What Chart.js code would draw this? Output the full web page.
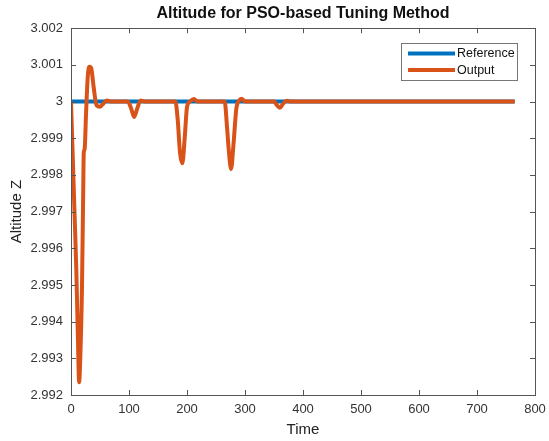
<!DOCTYPE html>
<html>
<head>
<meta charset="utf-8">
<script src="https://cdn.jsdelivr.net/npm/chart.js@4/dist/chart.umd.min.js"></script>
<style>
  body { margin: 0; background: #fff; }
  canvas { display: block; }
</style>
</head>
<body>
<canvas id="altChart" width="549" height="441"></canvas>
<script>
// reference altitude (constant setpoint)
var refTime = [0, 765];
var refAlt = [3.0, 3.0];

// PSO tuned output response
var outTime = [0, 3, 6, 9, 12, 14, 16, 19, 21, 22, 23.5, 26, 29, 32, 35, 39, 44, 50, 56, 62, 70,
  98, 104, 109, 114, 120, 128,
  180, 184, 188, 192, 196, 200, 205, 212, 218,
  265, 269, 273, 276, 280, 285, 290, 294, 300,
  350, 355, 360, 366, 372, 380, 765];
var outAlt = [3.0, 2.9985, 2.9970, 2.9955, 2.9935, 2.99235, 2.9930, 2.9950, 2.9975, 2.9986, 2.9987, 2.9997, 3.0007, 3.00095, 3.0009, 3.0004, 2.9999, 2.99986, 2.99995, 3.00003, 3.0,
  3.0, 2.9998, 2.99958, 2.9998, 3.00003, 3.0,
  3.0, 2.9995, 2.9986, 2.99832, 2.9990, 2.99985, 3.0, 3.00007, 3.0,
  3.0, 2.9993, 2.9985, 2.99816, 2.9988, 2.9998, 3.00003, 3.00008, 3.0,
  3.0, 2.9999, 2.99983, 2.99995, 3.00002, 3.0, 3.0];

var xTicks = [0, 100, 200, 300, 400, 500, 600, 700, 800];
var yTicks = [2.992, 2.993, 2.994, 2.995, 2.996, 2.997, 2.998, 2.999, 3, 3.001, 3.002];

function toPoints(xs, ys) {
  return xs.map(function(x, i) { return {x: x, y: ys[i]}; });
}

var FONT = "'Liberation Sans', Arial, sans-serif";
var AXIS_COLOR = '#555';

// box around the axes, inward ticks and the boxed legend
var axesBox = {
  id: 'axesBox',
  afterDatasetsDraw: function(chart) {
    var ctx = chart.ctx, a = chart.chartArea;
    var xs = chart.scales.x, ys = chart.scales.y;
    ctx.save();
    ctx.strokeStyle = AXIS_COLOR;
    ctx.lineWidth = 1;
    ctx.strokeRect(Math.round(a.left) + 0.5, Math.round(a.top) + 0.5,
      Math.round(a.right - a.left), Math.round(a.bottom - a.top));
    ctx.beginPath();
    xTicks.forEach(function(v) {
      var px = Math.round(xs.getPixelForValue(v)) + 0.5;
      ctx.moveTo(px, a.bottom); ctx.lineTo(px, a.bottom - 5);
      ctx.moveTo(px, a.top); ctx.lineTo(px, a.top + 5);
    });
    yTicks.forEach(function(v) {
      var py = Math.round(ys.getPixelForValue(v)) + 0.5;
      ctx.moveTo(a.left, py); ctx.lineTo(a.left + 5, py);
      ctx.moveTo(a.right, py); ctx.lineTo(a.right - 5, py);
    });
    ctx.stroke();

    // legend
    var lx = 401, ly = 43, lw = 116, lh = 37;
    ctx.fillStyle = '#fff';
    ctx.fillRect(lx, ly, lw, lh);
    ctx.strokeStyle = '#777';
    ctx.strokeRect(lx + 0.5, ly + 0.5, lw, lh);
    ctx.font = '12.5px ' + FONT;
    ctx.textBaseline = 'middle';
    ctx.fillStyle = '#111';
    chart.data.datasets.forEach(function(ds, i) {
      var yy = ly + 10.5 + i * 16.5;
      ctx.strokeStyle = ds.borderColor;
      ctx.lineWidth = 4;
      ctx.beginPath();
      ctx.moveTo(lx + 7, yy); ctx.lineTo(lx + 54, yy);
      ctx.stroke();
      ctx.fillText(ds.label, lx + 56, yy + 0.5);
    });
    ctx.restore();
  }
};

new Chart(document.getElementById('altChart'), {
  type: 'line',
  data: {
    datasets: [
      {
        label: 'Reference',
        data: toPoints(refTime, refAlt),
        borderColor: '#0072BD',
        borderWidth: 4,
        pointRadius: 0,
        order: 2
      },
      {
        label: 'Output',
        data: toPoints(outTime, outAlt),
        borderColor: '#D95319',
        borderWidth: 4,
        pointRadius: 0,
        cubicInterpolationMode: 'monotone',
        order: 1
      }
    ]
  },
  options: {
    responsive: false,
    animation: false,
    layout: { padding: { left: 0, right: 14, top: 0, bottom: 0 } },
    plugins: {
      legend: { display: false },
      tooltip: { enabled: false },
      title: {
        display: true,
        fullSize: false,
        text: 'Altitude for PSO-based Tuning Method',
        color: '#111',
        font: { family: FONT, size: 16, weight: 'bold', lineHeight: 1.2 },
        padding: { top: 4, bottom: 5 }
      }
    },
    scales: {
      x: {
        type: 'linear',
        min: 0,
        max: 800,
        afterBuildTicks: function(s) { s.ticks = xTicks.map(function(v) { return {value: v}; }); },
        afterFit: function(s) { s.height = 46; s.paddingLeft = 0; s.paddingRight = 0; },
        grid: { display: false, drawTicks: false },
        border: { display: false },
        ticks: { color: '#333', padding: 7, maxRotation: 0, font: { family: FONT, size: 13 } },
        title: {
          display: true, text: 'Time', color: '#222',
          font: { family: FONT, size: 15 }, padding: { top: 2, bottom: 2 }
        }
      },
      y: {
        min: 2.992,
        max: 3.002,
        afterBuildTicks: function(s) { s.ticks = yTicks.map(function(v) { return {value: v}; }); },
        afterFit: function(s) { s.width = 71; s.paddingTop = 0; s.paddingBottom = 0; },
        grid: { display: false, drawTicks: false },
        border: { display: false },
        ticks: {
          color: '#333', padding: 8, font: { family: FONT, size: 13 },
          callback: function(v) { return String(Number(v.toFixed(3))); }
        },
        title: {
          display: true, text: 'Altitude Z', color: '#222',
          font: { family: FONT, size: 15 }, padding: { top: 8, bottom: 8 }
        }
      }
    }
  },
  plugins: [axesBox]
});
</script>
</body>
</html>
